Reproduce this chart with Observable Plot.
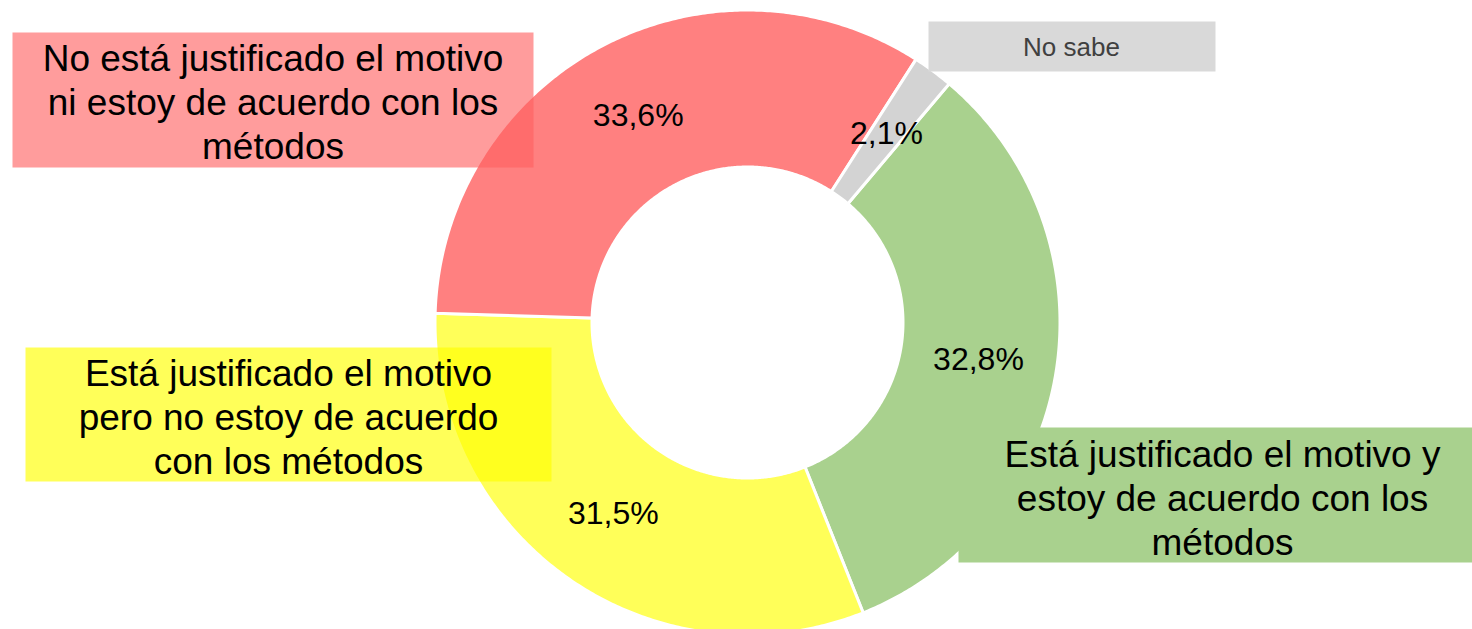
<!DOCTYPE html>
<html>
<head>
<meta charset="utf-8">
<script src="https://cdn.jsdelivr.net/npm/d3@7"></script>
<script src="https://cdn.jsdelivr.net/npm/@observablehq/plot@0.6"></script>
<style>
  html, body { margin: 0; padding: 0; background: #fff; }
  #chart svg { display: block; }
</style>
</head>
<body>
<div id="chart"></div>
<script>
// ---- Data ----
const categories = [
  "Está justificado el motivo y estoy de acuerdo con los métodos",
  "Está justificado el motivo pero no estoy de acuerdo con los métodos",
  "No está justificado el motivo ni estoy de acuerdo con los métodos",
  "No sabe"
];
const values = [32.8, 31.5, 33.6, 2.1];
const valueLabels = ["32,8%", "31,5%", "33,6%", "2,1%"];
const labelLines = [
  "Está justificado el motivo y\nestoy de acuerdo con los\nmétodos",
  "Está justificado el motivo\npero no estoy de acuerdo\ncon los métodos",
  "No está justificado el motivo\nni estoy de acuerdo con los\nmétodos",
  "No sabe"
];

// ---- Styles ----
const sliceColors = ["#a9d18e", "#ffff59", "#ff8080", "#d3d3d3"];
const boxColors = ["#a9d18e", "#ffff00", "#ff5f5f", "#d9d9d9"];
const boxOpacity = [1, 0.65, 0.62, 1];
const labelColors = ["#000", "#000", "#000", "#404040"];

// ---- Layout (pixels) ----
const cx = 747, cy = 322, R = 312.5, r = 155.5, startDeg = 40.2;
const boxes = [ // [x0, y0, x1, y1] of each label box
  [958, 427, 1486, 562],
  [25, 347, 551, 481],
  [12, 32, 533, 167],
  [928, 21, 1215, 71]
];
const labelAnchors = [[1222, 496], [288, 415], [272.5, 100.5], [1071, 47]];

// ---- Derived geometry ----
const total = d3.sum(values);
const pt = (deg, rad) => [cx + rad * Math.sin(deg * Math.PI / 180), cy - rad * Math.cos(deg * Math.PI / 180)];
let acc = 0;
const slices = values.map((v, i) => {
  const a0 = startDeg + acc / total * 360;
  acc += v;
  const a1 = startDeg + acc / total * 360;
  const n = Math.max(4, Math.ceil((a1 - a0) * 2));
  const ring = [];
  for (let k = 0; k <= n; k++) ring.push(pt(a0 + (a1 - a0) * k / n, R));
  for (let k = n; k >= 0; k--) ring.push(pt(a0 + (a1 - a0) * k / n, r));
  ring.push(ring[0]);
  const mid = pt((a0 + a1) / 2, (R + r) / 2);
  return {
    type: "Feature",
    properties: {category: categories[i], color: sliceColors[i], label: valueLabels[i], lx: mid[0], ly: mid[1]},
    geometry: {type: "Polygon", coordinates: [ring]}
  };
});
const boxFeatures = boxes.map(([x0, y0, x1, y1], i) => ({
  type: "Feature",
  properties: {color: boxColors[i], opacity: boxOpacity[i]},
  geometry: {type: "Polygon", coordinates: [[[x0, y0], [x1, y0], [x1, y1], [x0, y1], [x0, y0]]]}
}));
const labels = categories.map((c, i) => ({
  text: labelLines[i], x: labelAnchors[i][0], y: labelAnchors[i][1], color: labelColors[i]
}));

const font = "'Liberation Sans', Arial, Helvetica, sans-serif";

const chart = Plot.plot({
  width: 1472,
  height: 629,
  margin: 0,
  projection: d3.geoIdentity(),
  color: {type: "identity"},
  style: {background: "#fff", fontFamily: font},
  marks: [
    Plot.geo(slices, {fill: d => d.properties.color, stroke: "white", strokeWidth: 3, title: d => d.properties.category}),
    Plot.geo(boxFeatures, {fill: d => d.properties.color, fillOpacity: d => d.properties.opacity}),
    Plot.text(labels.filter((d, i) => i < 3), {x: "x", y: "y", text: "text", fill: "color", fontSize: 37, lineHeight: 1.19, textAnchor: "middle", lineAnchor: "middle", fontFamily: font}),
    Plot.text(labels.filter((d, i) => i === 3), {x: "x", y: "y", text: "text", fill: "color", fontSize: 26, textAnchor: "middle", lineAnchor: "middle", fontFamily: font}),
    Plot.text(slices, {x: d => d.properties.lx, y: d => d.properties.ly, text: d => d.properties.label, fill: "black", fontSize: 32, textAnchor: "middle", lineAnchor: "middle", fontFamily: font})
  ]
});
document.getElementById("chart").appendChild(chart);
</script>
</body>
</html>
